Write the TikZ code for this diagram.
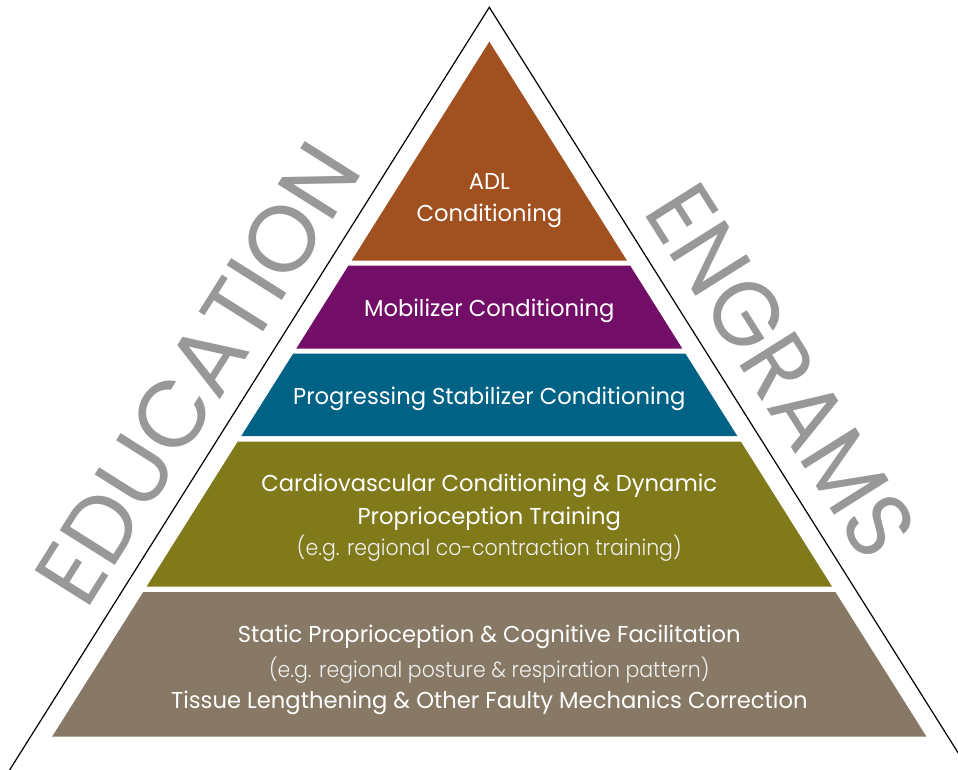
\documentclass[tikz,border=0pt]{standalone}
\usepackage{fontspec}
\setmainfont{Poppins}[FakeStretch=0.985]
\newfontfamily\lightf{Poppins Light}[FakeStretch=0.93]
\newfontfamily\bigf{Poppins}
\definecolor{cADL}{RGB}{161,80,32}
\definecolor{cMob}{RGB}{114,14,104}
\definecolor{cProg}{RGB}{0,99,134}
\definecolor{cCard}{RGB}{128,122,27}
\definecolor{cStat}{RGB}{135,121,101}
\definecolor{cBig}{RGB}{152,152,152}
\tikzset{
  lbl/.style={text=white, inner sep=0pt, anchor=base, font=\fontsize{23}{28}\selectfont},
  sub/.style={text=white!94!black, inner sep=0pt, anchor=base, font=\lightf\fontsize{22}{28}\selectfont},
  big/.style={text=cBig, inner sep=0pt, font=\bigf\fontsize{90}{90}\selectfont},
  outline/.style={line width=1.2pt, black, line join=miter}
}
\begin{document}
\begin{tikzpicture}[x=1pt,y=-1pt]
\useasboundingbox (0,0) rectangle (958,770);
\clip (0,0) rectangle (958,770);
\fill[white] (0,0) rectangle (958,770);
% outer triangle
\coordinate (apex) at (489.3,7.3);
\coordinate (bl) at (9.6,770);
\coordinate (br) at (968.9,770);
\draw[outline] (bl) -- (apex) -- (br);
% layers
\fill[cADL] (489.3,41.7) -- (626.9,260.5) -- (351.7,260.5) -- cycle;
\fill[cMob] (348.5,265.5) -- (630.1,265.5) -- (682.4,348.7) -- (296.2,348.7) -- cycle;
\fill[cProg] (293.1,353.7) -- (685.5,353.7) -- (737.3,436) -- (241.3,436) -- cycle;
\fill[cCard] (237.8,441.5) -- (740.8,441.5) -- (832.1,586.7) -- (146.5,586.7) -- cycle;
\fill[cStat] (143.2,592) -- (835.4,592) -- (926.5,736.7) -- (52.1,736.7) -- cycle;
% labels
\node[lbl] (adl1) at (489.3,189.3) {ADL};
\node[lbl] (adl2) at (489.3,221.7) {Conditioning};
\node[lbl] (mob) at (489.3,316.7) {Mobilizer Conditioning};
\node[lbl] (prog) at (489.3,404) {Progressing Stabilizer Conditioning};
\node[lbl] (card1) at (489.3,491) {Cardiovascular Conditioning \& Dynamic};
\node[lbl] (card2) at (489.3,524) {Proprioception Training};
\node[sub] (card3) at (489.3,555) {(e.g. regional co-contraction training)};
\node[lbl] (stat1) at (489.3,642.3) {Static Proprioception \& Cognitive Facilitation};
\node[sub] (stat2) at (489.3,677.7) {(e.g. regional posture \& respiration pattern)};
\node[lbl] (stat3) at (489.3,708.3) {Tissue Lengthening \& Other Faulty Mechanics Correction};
% side words
\node[big, rotate=57.8] (edu) at (198,373.6) {\resizebox{522pt}{66pt}{EDUCATION}};
\node[big, rotate=-57.8] (eng) at (781.8,370.9) {\resizebox{418pt}{66pt}{ENGRAMS}};
\end{tikzpicture}
\end{document}
